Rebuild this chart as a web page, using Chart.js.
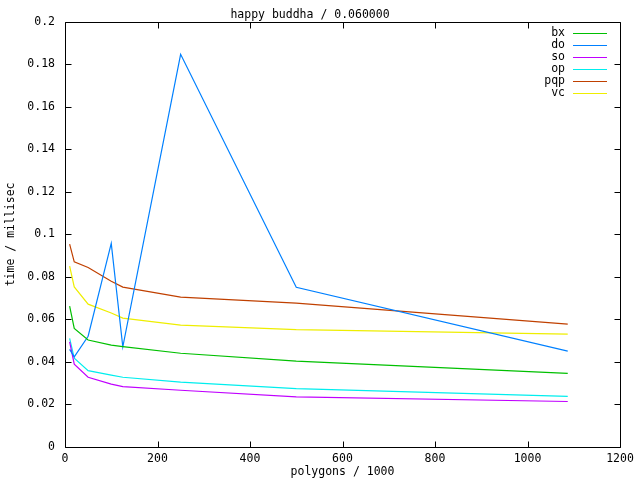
<!DOCTYPE html>
<html>
<head>
<meta charset="utf-8">
<script src="https://cdn.jsdelivr.net/npm/chart.js"></script>
<style>
  html, body { margin: 0; padding: 0; background: #fff; }
  #wrap { width: 640px; height: 480px; }
</style>
</head>
<body>
<div id="wrap"><canvas id="chart" width="640" height="480"></canvas></div>
<script>
// polygons / 1000
const polygons = [10, 20, 50, 100, 125, 250, 500, 1087];
// time / millisec
const bx  = [0.0663, 0.0558, 0.0503, 0.0479, 0.0472, 0.0441, 0.0404, 0.0346];
const dO  = [0.0459, 0.0424, 0.0521, 0.0958, 0.0471, 0.1847, 0.0751, 0.0451];
const so  = [0.0495, 0.0390, 0.0328, 0.0296, 0.0284, 0.0267, 0.0236, 0.0214];
const op  = [0.0511, 0.0418, 0.0359, 0.0338, 0.0328, 0.0305, 0.0275, 0.0238];
const pqp = [0.0954, 0.0871, 0.0844, 0.0780, 0.0752, 0.0705, 0.0677, 0.0578];
const vc  = [0.0851, 0.0753, 0.0672, 0.0630, 0.0606, 0.0573, 0.0552, 0.0531];

const seriesNames = ['bx', 'do', 'so', 'op', 'pqp', 'vc'];
const seriesColors = ['#00c000', '#0080ff', '#c000ff', '#00eeee', '#c04000', '#eeee00'];
const seriesValues = [bx, dO, so, op, pqp, vc];

const xTicks = [0, 200, 400, 600, 800, 1000, 1200];
const yTicks = [0, 0.02, 0.04, 0.06, 0.08, 0.1, 0.12, 0.14, 0.16, 0.18, 0.2];

const FONT = '"DejaVu Sans Mono", monospace';

// gnuplot style: box border, inward ticks on all sides, legend inside top right
const gnuplotFrame = {
  id: 'gnuplotFrame',
  afterDatasetsDraw(chart) {
    const { ctx, chartArea: a, scales } = chart;
    const L = Math.round(a.left) + 0.5, R = Math.round(a.right) + 0.5;
    const T = Math.round(a.top) + 0.5, B = Math.round(a.bottom) + 0.5;
    ctx.save();
    ctx.strokeStyle = '#000';
    ctx.lineWidth = 1;
    ctx.beginPath();
    ctx.rect(L, T, R - L, B - T);
    xTicks.forEach(v => {
      const px = Math.round(scales.x.getPixelForValue(v)) + 0.5;
      ctx.moveTo(px, B); ctx.lineTo(px, B - 6);
      ctx.moveTo(px, T); ctx.lineTo(px, T + 6);
    });
    yTicks.forEach(v => {
      const py = Math.round(scales.y.getPixelForValue(v)) + 0.5;
      ctx.moveTo(L, py); ctx.lineTo(L + 6, py);
      ctx.moveTo(R, py); ctx.lineTo(R - 6, py);
    });
    ctx.stroke();

    // legend
    ctx.font = '11.5px ' + FONT;
    ctx.textAlign = 'right';
    ctx.textBaseline = 'middle';
    chart.data.datasets.forEach((ds, i) => {
      const y = 33 + 12 * i;
      ctx.fillStyle = '#000';
      ctx.fillText(ds.label, 565, y);
      ctx.fillStyle = seriesColors[i];
      ctx.fillRect(573, y, 34, 1);
    });
    ctx.restore();
  }
};

new Chart(document.getElementById('chart'), {
  type: 'line',
  data: {
    datasets: seriesNames.map((name, i) => ({
      label: name,
      data: polygons.map((x, j) => ({ x: x, y: seriesValues[i][j] })),
      borderColor: seriesColors[i],
      backgroundColor: seriesColors[i],
      borderWidth: 1.2,
      pointRadius: 0,
      tension: 0,
      fill: false
    }))
  },
  options: {
    responsive: false,
    animation: false,
    layout: { padding: { left: 0, right: 20, top: 0, bottom: 0 } },
    plugins: {
      legend: { display: false },
      tooltip: { enabled: false },
      title: {
        display: true,
        text: 'happy buddha / 0.060000',
        color: '#000',
        font: { family: FONT, size: 11.5, weight: 'normal' },
        padding: { top: 8, bottom: 0 }
      }
    },
    scales: {
      x: {
        type: 'linear',
        min: 0, max: 1200,
        afterBuildTicks: s => { s.ticks = xTicks.map(v => ({ value: v })); },
        afterFit: s => { s.height = 33; },
        grid: { display: false, drawTicks: false },
        border: { display: false },
        ticks: {
          color: '#000',
          font: { family: FONT, size: 11.5 },
          padding: 5,
          maxRotation: 0,
          callback: v => String(v)
        },
        title: {
          display: true,
          text: 'polygons / 1000',
          color: '#000',
          font: { family: FONT, size: 11.5 },
          padding: { top: 0, bottom: 1 }
        }
      },
      y: {
        min: 0, max: 0.2,
        afterBuildTicks: s => { s.ticks = yTicks.map(v => ({ value: v })); },
        afterFit: s => { s.width = 65; },
        grid: { display: false, drawTicks: false },
        border: { display: false },
        ticks: {
          color: '#000',
          font: { family: FONT, size: 11.5 },
          padding: 10,
          callback: v => String(parseFloat(v.toFixed(2)))
        },
        title: {
          display: true,
          text: 'time / millisec',
          color: '#000',
          font: { family: FONT, size: 11.5 },
          padding: { top: 4, bottom: 0 }
        }
      }
    }
  },
  plugins: [gnuplotFrame]
});
</script>
</body>
</html>
